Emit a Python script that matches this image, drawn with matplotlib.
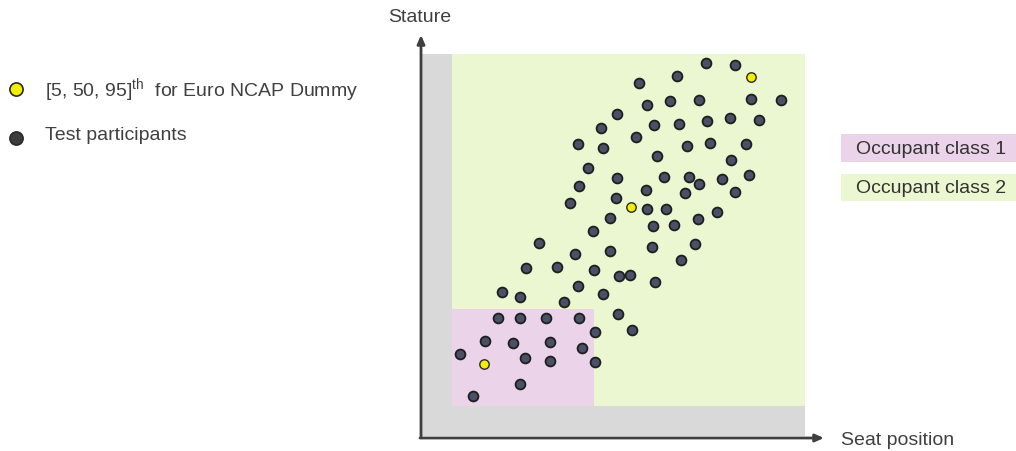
import matplotlib
matplotlib.use("Agg")
import matplotlib.pyplot as plt
from matplotlib.patches import Rectangle

plt.rcParams['font.family'] = ['Liberation Sans', 'DejaVu Sans']
plt.rcParams['mathtext.fontset'] = 'custom'
plt.rcParams['mathtext.rm'] = 'Liberation Sans'
plt.rcParams['mathtext.it'] = 'Liberation Sans:italic'

# Test participants (seat position, stature) in arbitrary units
seat = [196, 180, 157, 182, 167, 196, 158, 195, 149, 189, 172, 118,
        285, 314, 256, 218, 330, 360, 278, 249, 226, 338, 309, 286,
        258, 233, 215, 325, 289, 266, 236, 310, 243, 268, 278, 301,
        328, 225, 314, 264, 226, 245, 296, 232, 253, 277, 154, 189,
        231, 105, 136, 173, 198, 209, 234, 81, 99, 157, 182, 143,
        197, 211, 77, 99, 125, 158, 174, 64, 92, 129, 161, 39,
        104, 129, 174, 99, 52, 274, 260]
stature = [322, 308, 292, 288, 268, 258, 250, 238, 233, 218, 205, 193,
           373, 371, 360, 353, 337, 336, 336, 335, 331, 316, 318, 315,
           312, 311, 299, 292, 293, 290, 280, 276, 259, 259, 252, 257,
           261, 246, 244, 243, 227, 227, 224, 210, 211, 217, 182, 185,
           189, 168, 169, 166, 160, 161, 154, 144, 139, 150, 142, 134,
           122, 106, 118, 118, 118, 118, 104, 95, 93, 94, 88, 82,
           78, 75, 74, 52, 40, 192, 176]

# Euro NCAP dummies (5th, 50th, 95th)
dummy_seat = [63, 210, 330]
dummy_stature = [72, 229, 359]

# Regions
plot_max_x, plot_max_y = 384, 382
class_min = (31, 30)
class1_max = (173, 127)

W, H = 1016, 452
ox, oy = 421, 437  # axis origin in pixels

fig = plt.figure(figsize=(W / 100, H / 100), dpi=100)
ax = fig.add_axes([0, 0, 1, 1])
ax.set_xlim(-ox, W - ox)
ax.set_ylim(-(H - oy), oy)
ax.axis('off')

gray = '#d9d9d9'
green = '#ebf7d0'
pink = '#ebd3e9'
axcol = '#3f3f3f'
txtcol = '#404040'
fs = 14

ax.add_patch(Rectangle((0, 0), plot_max_x, plot_max_y, facecolor=gray, edgecolor='none', zorder=0))
ax.add_patch(Rectangle(class_min, plot_max_x - class_min[0], plot_max_y - class_min[1],
                       facecolor=green, edgecolor='none', zorder=1))
ax.add_patch(Rectangle(class_min, class1_max[0] - class_min[0], class1_max[1] - class_min[1],
                       facecolor=pink, edgecolor='none', zorder=2))

# axes arrows
ax.annotate('', xy=(0, 401), xytext=(0, -1.5),
            arrowprops=dict(arrowstyle='-|>,head_length=0.5,head_width=0.22', color=axcol, lw=2, shrinkA=0, shrinkB=0), zorder=5)
ax.annotate('', xy=(403, -2), xytext=(-1, -2),
            arrowprops=dict(arrowstyle='-|>,head_length=0.5,head_width=0.22', color=axcol, lw=2, shrinkA=0, shrinkB=0), zorder=5)

ax.text(-1, 419.5, 'Stature', ha='center', va='center', fontsize=fs, color=txtcol)
ax.text(420, -3.5, 'Seat position', ha='left', va='center', fontsize=fs, color=txtcol)

ax.scatter(seat, stature, s=50, facecolor='#4a5066', edgecolor='#1e1e1e', linewidth=1.3, zorder=6)
ax.scatter(dummy_seat, dummy_stature, s=46, facecolor='#f2ef00', edgecolor='#2a2a2a', linewidth=1.0, zorder=7)

# left legend
ax.scatter([-405], [347], s=90, facecolor='#f2ef00', edgecolor='#2a2a2a', linewidth=1.2, zorder=7, clip_on=False)
ax.text(-376, 347, r'[5, 50, 95]$^{\mathrm{th}}$  for Euro NCAP Dummy', ha='left', va='center',
        fontsize=fs, color=txtcol)
ax.scatter([-405], [298], s=90, facecolor='#3c3c3c', edgecolor='#2a2a2a', linewidth=1.2, zorder=7, clip_on=False)
ax.text(-376, 301, 'Test participants', ha='left', va='center', fontsize=fs, color=txtcol)

# right legend
ax.add_patch(Rectangle((420, 274), 200, 28, facecolor=pink, edgecolor='none', zorder=1))
ax.add_patch(Rectangle((420, 235), 200, 27, facecolor=green, edgecolor='none', zorder=1))
ax.text(435, 287.5, 'Occupant class 1', ha='left', va='center', fontsize=fs, color='#333333')
ax.text(435, 248.5, 'Occupant class 2', ha='left', va='center', fontsize=fs, color='#333333')

fig.savefig('out.png', dpi=100)
